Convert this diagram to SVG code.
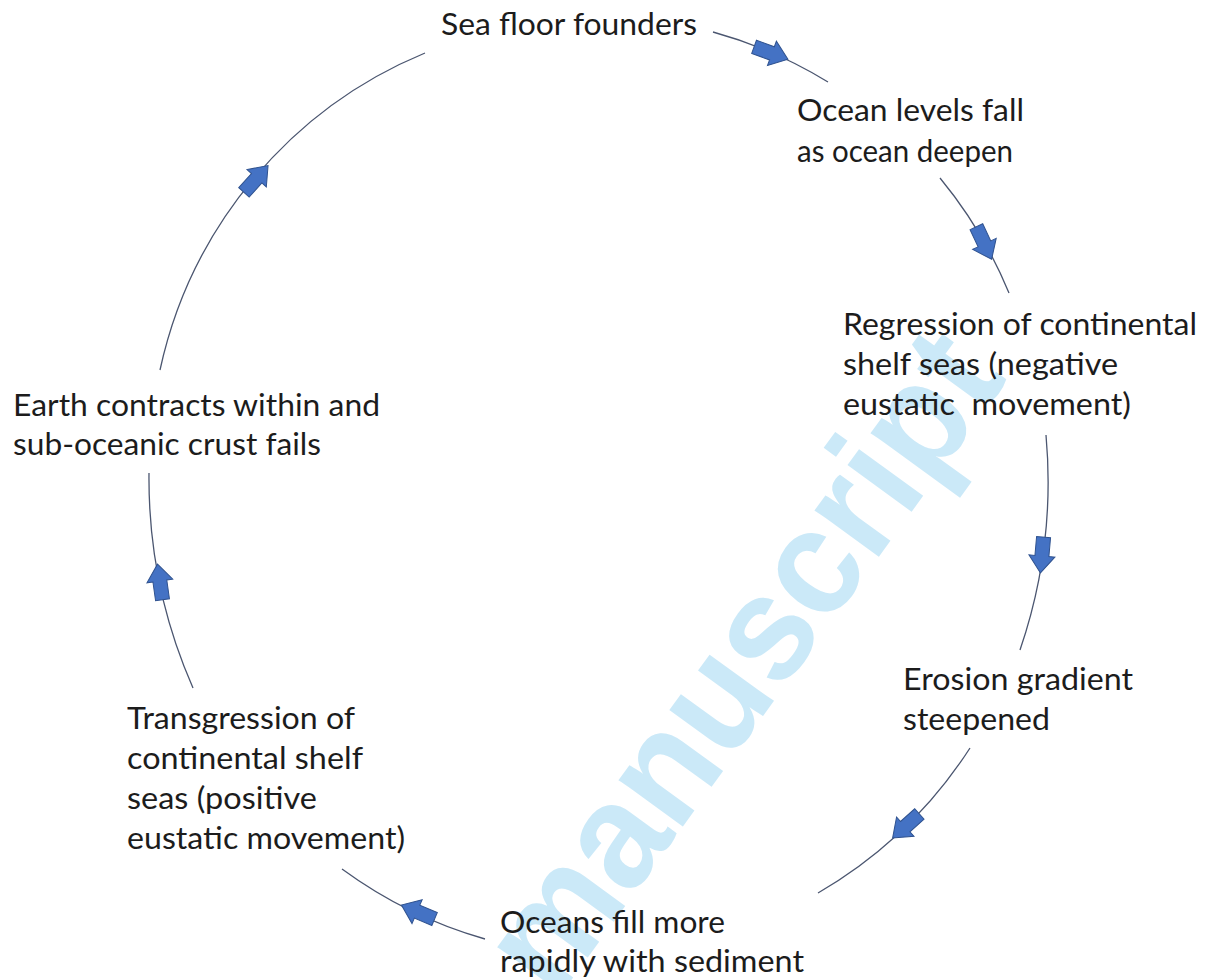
<svg xmlns="http://www.w3.org/2000/svg" width="1207" height="980" viewBox="0 0 1207 980">
<style>
  .lbl { font-family: "Lato", "Open Sans", "Liberation Sans", sans-serif; font-size: 31px; fill: #1c1c1c; }
  .arc { fill: none; stroke: #4b5670; stroke-width: 1.3; }
  .blk { fill: #4472C4; stroke: #2F528F; stroke-width: 1; }
  .wm { font-family: "Liberation Sans", "Arial", sans-serif; font-weight: bold; font-size: 150px; fill: #cbe9f8; }
</style>
<defs>
  <polygon id="blockArrow" points="-18,-7 1,-7 1,-13 18,0 1,13 1,7 -18,7"/>
</defs>
<rect x="0" y="0" width="1207" height="980" fill="#ffffff"/>

<g id="watermark">
  <text class="wm" x="0" y="0" text-anchor="middle" textLength="770" lengthAdjust="spacingAndGlyphs" transform="translate(782,690) rotate(-54)">manuscript</text>
</g>

<g id="connectors">
  <path class="arc" d="M160,370 A445,445 0 0 1 425,53"/>
  <path class="arc" d="M713,32 A445,445 0 0 1 828,82"/>
  <path class="arc" d="M940,178 A450,450 0 0 1 1009,293"/>
  <path class="arc" d="M1046,435 A520,520 0 0 1 1020,650"/>
  <path class="arc" d="M970,748 A450,450 0 0 1 818,893"/>
  <path class="arc" d="M485,939 A450,450 0 0 1 342,869"/>
  <path class="arc" d="M193,688 A520,520 0 0 1 149,473"/>
  <use href="#blockArrow" class="blk" transform="translate(771,53) rotate(20)"/>
  <use href="#blockArrow" class="blk" transform="translate(984,243) rotate(65)"/>
  <use href="#blockArrow" class="blk" transform="translate(1042,555) rotate(95)"/>
  <use href="#blockArrow" class="blk" transform="translate(906,826) rotate(138)"/>
  <use href="#blockArrow" class="blk" transform="translate(418,912) rotate(203)"/>
  <use href="#blockArrow" class="blk" transform="translate(160,582) rotate(-98)"/>
  <use href="#blockArrow" class="blk" transform="translate(256,179) rotate(-48)"/>
</g>

<g id="node-sea-floor">
  <text class="lbl" x="441" y="35" textLength="256" lengthAdjust="spacingAndGlyphs">Sea floor founders</text>
</g>
<g id="node-ocean-levels">
  <text class="lbl" x="797" y="121" textLength="227" lengthAdjust="spacingAndGlyphs">Ocean levels fall</text>
  <text class="lbl" x="797" y="162" textLength="216" lengthAdjust="spacingAndGlyphs">as ocean deepen</text>
</g>
<g id="node-regression">
  <text class="lbl" x="843" y="335" textLength="354" lengthAdjust="spacingAndGlyphs">Regression of continental</text>
  <text class="lbl" x="843" y="375" textLength="275" lengthAdjust="spacingAndGlyphs">shelf seas (negative</text>
  <text class="lbl" x="843" y="415" textLength="288" lengthAdjust="spacingAndGlyphs" xml:space="preserve">eustatic  movement)</text>
</g>
<g id="node-erosion">
  <text class="lbl" x="903" y="690" textLength="230" lengthAdjust="spacingAndGlyphs">Erosion gradient</text>
  <text class="lbl" x="903" y="730" textLength="147" lengthAdjust="spacingAndGlyphs">steepened</text>
</g>
<g id="node-oceans-fill">
  <text class="lbl" x="500" y="933" textLength="225" lengthAdjust="spacingAndGlyphs">Oceans fill more</text>
  <text class="lbl" x="500" y="972" textLength="304" lengthAdjust="spacingAndGlyphs">rapidly with sediment</text>
</g>
<g id="node-transgression">
  <text class="lbl" x="127" y="729" textLength="228" lengthAdjust="spacingAndGlyphs">Transgression of</text>
  <text class="lbl" x="127" y="769" textLength="236" lengthAdjust="spacingAndGlyphs">continental shelf</text>
  <text class="lbl" x="127" y="809" textLength="190" lengthAdjust="spacingAndGlyphs">seas (positive</text>
  <text class="lbl" x="127" y="849" textLength="278" lengthAdjust="spacingAndGlyphs">eustatic movement)</text>
</g>
<g id="node-earth-contracts">
  <text class="lbl" x="13" y="416" textLength="367" lengthAdjust="spacingAndGlyphs">Earth contracts within and</text>
  <text class="lbl" x="13" y="455" textLength="308" lengthAdjust="spacingAndGlyphs">sub-oceanic crust fails</text>
</g>
</svg>
